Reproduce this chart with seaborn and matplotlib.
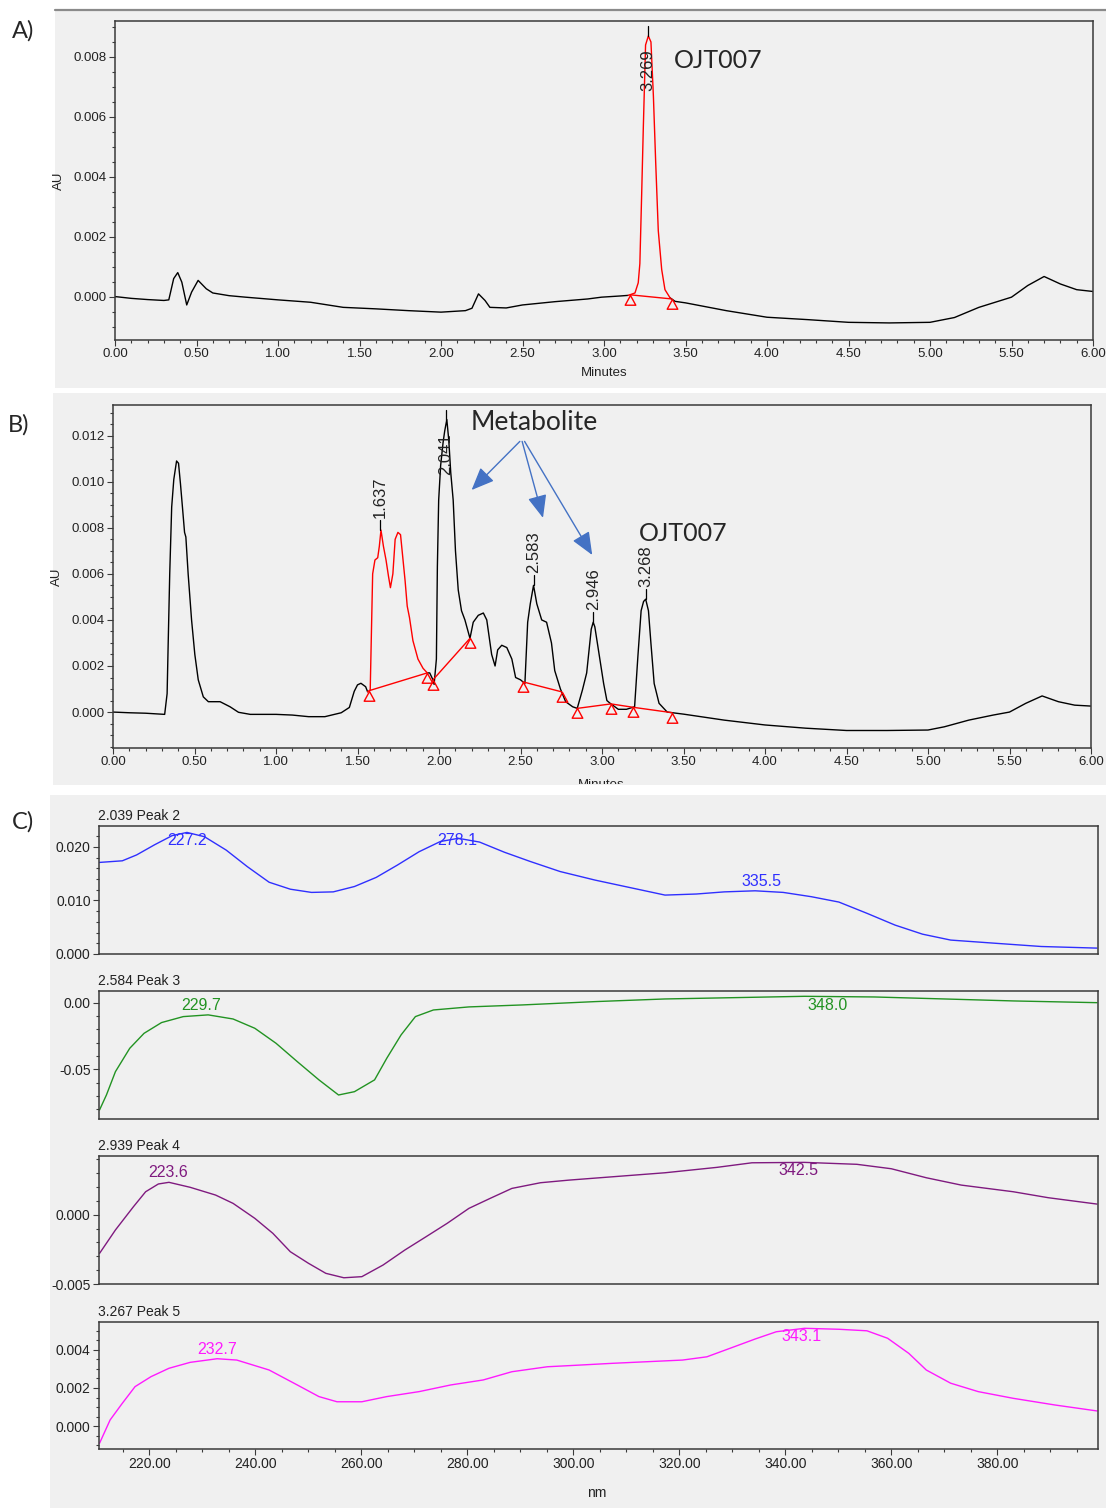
import numpy as np
import matplotlib
matplotlib.use("Agg")
import matplotlib.pyplot as plt
import seaborn as sns
from matplotlib.ticker import MultipleLocator, FormatStrFormatter
from matplotlib.patches import Rectangle
from matplotlib.path import Path
from matplotlib.lines import Line2D
from matplotlib.transforms import Bbox, TransformedBbox, blended_transform_factory

# ---------------- data ----------------
# Panel A chromatogram (minutes, AU)
A_time = [0.00, 0.10, 0.20, 0.30, 0.33, 0.36, 0.385, 0.41, 0.44, 0.47, 0.51, 0.56, 0.60, 0.70, 0.80,
          1.00, 1.20, 1.40, 1.60, 1.80, 2.00, 2.15, 2.19, 2.23, 2.27, 2.30, 2.40, 2.50, 2.70, 2.90,
          2.985, 3.10, 3.149, 3.19, 3.21, 3.22, 3.231, 3.241, 3.247, 3.255, 3.272, 3.288, 3.303,
          3.317, 3.333, 3.354, 3.374, 3.405, 3.436, 3.50, 3.75, 4.00, 4.25, 4.50, 4.75, 5.00, 5.15,
          5.30, 5.50, 5.60, 5.70, 5.80, 5.90, 6.00]
A_au = [0.0, -0.00006, -0.0001, -0.00013, -0.00011, 0.0006, 0.0008, 0.00048, -0.00028, 0.00015,
        0.00054, 0.00026, 0.00012, 0.00003, -0.00002, -0.00011, -0.00019, -0.00036, -0.00041,
        -0.00047, -0.00052, -0.00047, -0.00039, 0.00009, -0.00013, -0.00036, -0.00038, -0.00028,
        -0.00017, -0.00008, -0.00002, 0.00002, 0.00004, 0.00012, 0.00046, 0.0011, 0.0034, 0.0056,
        0.0068, 0.0084, 0.0087, 0.0085, 0.0067, 0.0045, 0.0022, 0.0009, 0.00023, -0.00004, -0.00016,
        -0.00021, -0.00047, -0.00069, -0.00077, -0.00086, -0.00088, -0.00086, -0.0007, -0.00036,
        -0.00002, 0.00037, 0.00067, 0.00042, 0.00023, 0.00017]
A_red_window = [3.149, 3.405]
A_marks = [3.159, 3.415]
A_peaks = [3.269]
A_peak_labels = ["3.269"]

# Panel B chromatogram
B_time = [0.00, 0.10, 0.20, 0.317, 0.332, 0.338, 0.348, 0.36, 0.373, 0.39, 0.402, 0.414, 0.426, 0.439,
          0.447, 0.461, 0.482, 0.502, 0.523, 0.554, 0.585, 0.657, 0.718, 0.77, 0.842, 1.00, 1.10,
          1.20, 1.30, 1.40, 1.45, 1.48, 1.50, 1.521, 1.55, 1.562, 1.578, 1.587, 1.593, 1.607, 1.624,
          1.634, 1.644, 1.659, 1.675, 1.69, 1.702, 1.717, 1.731, 1.748, 1.764, 1.778, 1.792, 1.805,
          1.819, 1.84, 1.871, 1.902, 1.928, 1.943, 1.963, 1.97, 1.984, 1.99, 1.998, 2.01, 2.025,
          2.035, 2.048, 2.06, 2.072, 2.087, 2.101, 2.118, 2.138, 2.159, 2.19, 2.21, 2.241, 2.272,
          2.293, 2.323, 2.344, 2.36, 2.385, 2.416, 2.447, 2.47, 2.50, 2.527, 2.544, 2.56, 2.58, 2.60,
          2.63, 2.66, 2.69, 2.71, 2.745, 2.777, 2.82, 2.848, 2.88, 2.906, 2.934, 2.946, 2.956, 2.978,
          3.01, 3.03, 3.05, 3.10, 3.15, 3.20, 3.22, 3.24, 3.255, 3.268, 3.285, 3.30, 3.32, 3.35,
          3.40, 3.50, 3.75, 4.00, 4.25, 4.50, 4.75, 5.00, 5.10, 5.25, 5.40, 5.50, 5.60, 5.70, 5.80,
          5.90, 6.00]
B_au = [0.0, -0.00003, -0.00005, -0.0001, 0.0008, 0.0028, 0.0060, 0.0089, 0.0101, 0.0109, 0.0108,
        0.0099, 0.0089, 0.0078, 0.0076, 0.0060, 0.0040, 0.0025, 0.0014, 0.00066, 0.00045, 0.00045,
        0.00023, -0.00001, -0.0001, -0.0001, -0.00013, -0.0002, -0.0002, -0.00003, 0.0002, 0.0009,
        0.00118, 0.00125, 0.0011, 0.00088, 0.00096, 0.0040, 0.0060, 0.0066, 0.0067, 0.0072, 0.0079,
        0.0072, 0.0066, 0.0059, 0.0054, 0.0060, 0.0075, 0.0078, 0.0077, 0.0067, 0.0057, 0.0046,
        0.0041, 0.0031, 0.0023, 0.0019, 0.0017, 0.0017, 0.0014, 0.0012, 0.0023, 0.0063, 0.0092,
        0.0107, 0.0117, 0.0122, 0.0127, 0.0118, 0.0104, 0.0092, 0.0070, 0.0053, 0.0044, 0.0040,
        0.0032, 0.0039, 0.0042, 0.0043, 0.0040, 0.0025, 0.0020, 0.0027, 0.0029, 0.0028, 0.0023,
        0.0015, 0.0014, 0.00124, 0.0039, 0.0047, 0.0055, 0.0047, 0.0040, 0.0039, 0.0030, 0.0018,
        0.0010, 0.00045, 0.00023, 0.00016, 0.00096, 0.0017, 0.0036, 0.0039, 0.0037, 0.0027, 0.00124,
        0.0005, 0.00038, 0.00012, 0.00012, 0.00023, 0.0024, 0.0044, 0.0048, 0.0049, 0.0044, 0.0030,
        0.00124, 0.00038, 0.0, -0.00009, -0.00035, -0.00056, -0.0007, -0.0008, -0.0008, -0.00078,
        -0.00064, -0.00035, -0.00013, 0.0, 0.00038, 0.0007, 0.00045, 0.0003, 0.00026]
B_red_window = [1.562, 1.928]
B_mark_groups = [[1.572, 1.928], [1.963, 2.19], [2.515, 2.752], [2.848, 3.055, 3.19, 3.43]]
B_peaks = [1.637, 2.041, 2.583, 2.946, 3.268]
B_peak_labels = ["1.637", "2.041", "2.583", "2.946", "3.268"]
B_arrow_targets = [(2.20, 0.00964), (2.638, 0.00843), (2.94, 0.00682)]

# Panel C UV spectra (nm, AU)
C_titles = ["2.039 Peak 2", "2.584 Peak 3", "2.939 Peak 4", "3.267 Peak 5"]
C1_nm = [210.6, 214.9, 217.6, 221.0, 224.3, 227.1, 230.4, 234.5, 238.5, 242.6, 246.6, 250.6, 254.7,
         258.7, 262.8, 266.8, 270.9, 274.9, 278.3, 282.3, 287.0, 291.8, 297.5, 304.1, 310.7, 317.3,
         323.2, 328.5, 334.3, 339.6, 344.9, 350.1, 355.4, 360.7, 365.9, 371.2, 379.7, 388.3, 398.8]
C1_au = [0.0171, 0.0174, 0.0185, 0.0204, 0.0221, 0.0227, 0.0219, 0.0194, 0.0163, 0.0134, 0.0121,
         0.0115, 0.0116, 0.0126, 0.0143, 0.0166, 0.0191, 0.0210, 0.0216, 0.0209, 0.0190, 0.0173,
         0.0154, 0.0138, 0.0124, 0.0110, 0.0112, 0.0116, 0.0118, 0.0115, 0.0107, 0.0097, 0.0076,
         0.0054, 0.0037, 0.0026, 0.0020, 0.0014, 0.0011]
C1_maxima = ["227.2", "278.1", "335.5"]
C2_nm = [210.6, 211.9, 213.6, 216.3, 219.0, 222.3, 226.4, 231.1, 235.8, 239.9, 243.9, 247.9, 252.0,
         255.7, 258.7, 262.5, 264.8, 267.5, 270.2, 273.6, 280.3, 290.4, 304.1, 317.3, 330.5, 343.6,
         356.8, 370.0, 383.1, 398.8]
C2_au = [-0.0807, -0.0694, -0.0518, -0.0342, -0.0229, -0.0148, -0.0103, -0.0090, -0.0121, -0.0191,
         -0.0304, -0.0442, -0.0580, -0.0694, -0.0669, -0.0580, -0.0417, -0.0241, -0.0103, -0.0053,
         -0.0030, -0.0015, 0.0010, 0.0030, 0.0040, 0.0050, 0.0045, 0.0030, 0.0015, 0.0002]
C2_maxima = ["229.7", "348.0"]
C3_nm = [210.6, 213.6, 217.0, 219.3, 221.7, 223.7, 227.7, 232.5, 235.8, 239.9, 243.3, 246.6, 250.0,
         253.3, 256.7, 260.1, 264.1, 268.2, 272.2, 276.2, 280.3, 284.3, 288.4, 293.8, 299.2, 307.4,
         317.3, 327.1, 333.7, 343.6, 353.5, 360.0, 366.6, 373.2, 383.0, 389.6, 398.8]
C3_au = [-0.00279, -0.0011, 0.00058, 0.00166, 0.00222, 0.00234, 0.00198, 0.00142, 0.00082, -0.00026,
         -0.00134, -0.00267, -0.0035, -0.00423, -0.00455, -0.00447, -0.00363, -0.00255, -0.00159,
         -0.00062, 0.00046, 0.00118, 0.0019, 0.00231, 0.0025, 0.00274, 0.00303, 0.00342, 0.00375,
         0.00378, 0.00364, 0.00332, 0.00267, 0.00214, 0.00166, 0.00123, 0.00077]
C3_maxima = ["223.6", "342.5"]
C4_nm = [210.6, 212.6, 214.9, 217.3, 220.3, 223.7, 227.7, 232.8, 236.5, 242.6, 247.9, 252.0, 255.4,
         260.1, 264.8, 270.9, 276.9, 283.0, 288.4, 295.1, 300.0, 307.4, 320.6, 325.2, 330.4, 334.3,
         338.3, 343.6, 350.1, 355.4, 359.3, 363.3, 366.6, 371.2, 376.4, 383.0, 390.9, 398.8]
C4_au = [-0.00089, 0.00033, 0.0012, 0.00207, 0.00259, 0.00303, 0.00334, 0.00353, 0.00346, 0.00294,
         0.00216, 0.00155, 0.00128, 0.00128, 0.00155, 0.00181, 0.00216, 0.00242, 0.00285, 0.00311,
         0.00318, 0.00329, 0.00346, 0.00363, 0.00416, 0.00456, 0.00494, 0.00512, 0.00507, 0.00499,
         0.0046, 0.00381, 0.00294, 0.00225, 0.00181, 0.00146, 0.00111, 0.0008]
C4_maxima = ["232.7", "343.1"]

# ---------------- style ----------------
sns.set_style("ticks")
plt.rcParams["font.family"] = ["Liberation Sans", "DejaVu Sans"]
CALIBRI = ["Lato", "DejaVu Sans"]
BG = "#f0f0f0"
SPINE = "#3a3a3a"
TXT = "#222222"

W, H = 1106, 1508
fig = plt.figure(figsize=(W / 100, H / 100), dpi=100)
fig.patch.set_facecolor("white")


def add_axes_px(l, t, r, b):
    return fig.add_axes([l / W, 1 - b / H, (r - l) / W, (b - t) / H])


def bg_rect(x0, y0, x1, y1):
    fig.add_artist(Rectangle((x0 / W, 1 - y1 / H), (x1 - x0) / W, (y1 - y0) / H,
                             transform=fig.transFigure, facecolor=BG, edgecolor="none", zorder=-5))


bg_rect(55, 10, 1106, 388)
bg_rect(53, 393, 1106, 785)
bg_rect(50, 795, 1106, 1508)
fig.add_artist(Line2D([55 / W, 1], [1 - 10 / H, 1 - 10 / H], transform=fig.transFigure,
                      color="#8a8a8a", lw=1.6, zorder=-4))

# triangle marker with apex at the data point
tri = Path([(0, 0), (-0.6, -1.1), (0.6, -1.1), (0, 0)],
           [Path.MOVETO, Path.LINETO, Path.LINETO, Path.CLOSEPOLY])


def style_box(ax):
    ax.set_facecolor(BG)
    for s in ax.spines.values():
        s.set_visible(True)
        s.set_color(SPINE)
        s.set_linewidth(1.1)


def chrom_axes(ax, ylim, ymaj):
    style_box(ax)
    ax.set_xlim(0, 6)
    ax.set_ylim(*ylim)
    ax.xaxis.set_major_locator(MultipleLocator(0.5))
    ax.xaxis.set_minor_locator(MultipleLocator(0.1))
    ax.xaxis.set_major_formatter(FormatStrFormatter("%.2f"))
    ax.yaxis.set_major_locator(MultipleLocator(ymaj))
    ax.yaxis.set_minor_locator(MultipleLocator(0.0005))
    ax.yaxis.set_major_formatter(FormatStrFormatter("%.3f"))
    ax.tick_params(which="both", direction="out", top=False, right=False, color=SPINE,
                   width=0.8, labelsize=9.5, pad=1.5, labelcolor=TXT)
    ax.tick_params(which="major", length=4.5)
    ax.tick_params(which="minor", length=2.5)
    ax.set_ylabel("AU", fontsize=9.5, color=TXT)
    ax.yaxis.set_label_coords(-0.051, 0.5)


def draw_trace(ax, times, vals, window):
    t = np.asarray(times)
    v = np.asarray(vals)
    left = t <= window[0]
    right = t >= window[1]
    mid = (t >= window[0]) & (t <= window[1])
    for m in (left, right):
        sns.lineplot(x=t[m], y=v[m], ax=ax, color="black", linewidth=1.0, estimator=None, sort=False)
    sns.lineplot(x=t[mid], y=v[mid], ax=ax, color="red", linewidth=1.0, estimator=None, sort=False)
    return t, v


def peak_tag(ax, t, label, times, vals):
    win = (times >= t - 0.02) & (times <= t + 0.02)
    apex = max(vals[win].max() if win.any() else -1, np.interp(t, times, vals))
    y0, y1 = ax.get_ylim()
    ppd = ax.bbox.height / (y1 - y0)
    tip = apex + 10 / ppd
    ax.plot([t, t], [apex, tip], color="black", lw=0.9, zorder=4)
    bottom = tip + 2 / ppd
    if (bottom - y0) * ppd + 42 > ax.bbox.height - 4:
        bottom = y1 - (29 + 41) / ppd
    ax.text(t, bottom, label, rotation=90, ha="center", va="bottom", fontsize=12,
            color=TXT, zorder=5)


def red_marks(ax, ts, times, vals):
    vs = np.interp(ts, times, vals)
    ax.plot(ts, vs, color="red", lw=1.0, zorder=3)
    ax.plot(ts, vs, linestyle="none", marker=tri, markersize=14, markerfacecolor="none",
            markeredgecolor="red", markeredgewidth=1.0, zorder=3)


# ---------------- Panel A ----------------
axA = add_axes_px(115, 21, 1093, 340)
chrom_axes(axA, (-0.00145, 0.0092), 0.002)
tA, vA = draw_trace(axA, A_time, A_au, A_red_window)
red_marks(axA, A_marks, tA, vA)
for p, lab in zip(A_peaks, A_peak_labels):
    peak_tag(axA, p, lab, tA, vA)
axA.set_xlabel("Minutes", fontsize=9.5, color=TXT)
axA.xaxis.set_label_coords(0.5, -0.085)
axA.text(3.43, 0.00787, "OJT007", fontsize=18, family=CALIBRI, ha="left", va="center")

# ---------------- Panel B ----------------
axB = add_axes_px(113, 405, 1091, 748)
chrom_axes(axB, (-0.00156, 0.01333), 0.002)
tB, vB = draw_trace(axB, B_time, B_au, B_red_window)
for grp in B_mark_groups:
    red_marks(axB, grp, tB, vB)
for p, lab in zip(B_peaks, B_peak_labels):
    peak_tag(axB, p, lab, tB, vB)
axB.set_xlabel("")
lblB = fig.text(601 / W, 1 - 779 / H, "Minutes", fontsize=9.5, color=TXT, ha="center", va="top")
lblB.set_clip_box(TransformedBbox(Bbox.from_extents(0, 1 - 784 / H, 1, 1), fig.transFigure))
lblB.set_clip_on(True)
axB.text(2.585, 0.01255, "Metabolite", fontsize=19, family=CALIBRI, ha="center", va="center")
starts = [(2.496, 0.01175), (2.51, 0.01175), (2.525, 0.01175)]
for (sx, sy), (ex, ey) in zip(starts, B_arrow_targets):
    axB.annotate("", xy=(ex, ey), xytext=(sx, sy),
                 arrowprops=dict(arrowstyle="-|>,head_length=1.0,head_width=0.42",
                                 color="#4472C4", lw=1.0, mutation_scale=14,
                                 shrinkA=0, shrinkB=0))
axB.text(3.225, 0.00777, "OJT007", fontsize=18, family=CALIBRI, ha="left", va="center")

# ---------------- Panel C ----------------
C_specs = [
    (C1_nm, C1_au, C1_maxima, "#2f2fff", (0.0, 0.0239), 0.010, 0.002, "%.3f", (826, 954)),
    (C2_nm, C2_au, C2_maxima, "#229322", (-0.0875, 0.009), 0.05, 0.01, "%.2f", (991, 1119)),
    (C3_nm, C3_au, C3_maxima, "#7f1a7f", (-0.005, 0.00424), 0.005, 0.001, "%.3f", (1156, 1284)),
    (C4_nm, C4_au, C4_maxima, "#ff1aff", (-0.00119, 0.00545), 0.002, 0.0005, "%.3f", (1322, 1449)),
]
for i, (nm, au, maxima, col, ylim, ymaj, ymin, fmt, (top, bot)) in enumerate(C_specs):
    ax = add_axes_px(99, top, 1098, bot)
    style_box(ax)
    ax.set_xlim(210.5, 399)
    ax.set_ylim(*ylim)
    nm_a = np.array(nm)
    au_a = np.array(au)
    sns.lineplot(x=nm_a, y=au_a, ax=ax, color=col, linewidth=1.0, estimator=None, sort=False)
    ax.yaxis.set_major_locator(MultipleLocator(ymaj))
    ax.yaxis.set_minor_locator(MultipleLocator(ymin))
    ax.yaxis.set_major_formatter(FormatStrFormatter(fmt))
    ax.xaxis.set_major_locator(MultipleLocator(20))
    ax.xaxis.set_minor_locator(MultipleLocator(5))
    ax.xaxis.set_major_formatter(FormatStrFormatter("%.2f"))
    ax.tick_params(which="both", direction="out", top=False, right=False, color=SPINE,
                   width=0.8, pad=1.5, labelcolor=TXT, labelsize=10)
    ax.tick_params(which="major", length=4.5)
    ax.tick_params(which="minor", length=2.5)
    if i < 3:
        ax.tick_params(axis="x", which="both", bottom=False, labelbottom=False)
    ax.set_xlabel("")
    ax.set_ylabel("")
    ax.annotate(C_titles[i], xy=(0, 1), xycoords="axes fraction", xytext=(-1, 3),
                textcoords="offset pixels", ha="left", va="bottom", fontsize=10, color=TXT)
    # peak maxima labels
    y0, y1 = ax.get_ylim()
    hpx = ax.bbox.height
    trans = blended_transform_factory(ax.transData, ax.transAxes)
    for lab in maxima:
        x = float(lab)
        v = np.interp(x, nm_a, au_a)
        bottom_px = (v - y0) / (y1 - y0) * hpx + 2
        if bottom_px + 19 > hpx - 3:
            bottom_px = hpx - 3 - 19
        ax.text(x, bottom_px / hpx, lab, transform=trans, ha="center", va="bottom",
                fontsize=11.5, color=col)

fig.text(597 / W, 1 - 1493 / H, "nm", fontsize=10, ha="center", va="center", color=TXT)

# panel letters
fig.text(12 / W, 1 - 31 / H, "A)", fontsize=17, family=CALIBRI, ha="left", va="center")
fig.text(8 / W, 1 - 425 / H, "B)", fontsize=17, family=CALIBRI, ha="left", va="center")
fig.text(12 / W, 1 - 822 / H, "C)", fontsize=17, family=CALIBRI, ha="left", va="center")

fig.savefig("out.png", dpi=100, facecolor="white")
